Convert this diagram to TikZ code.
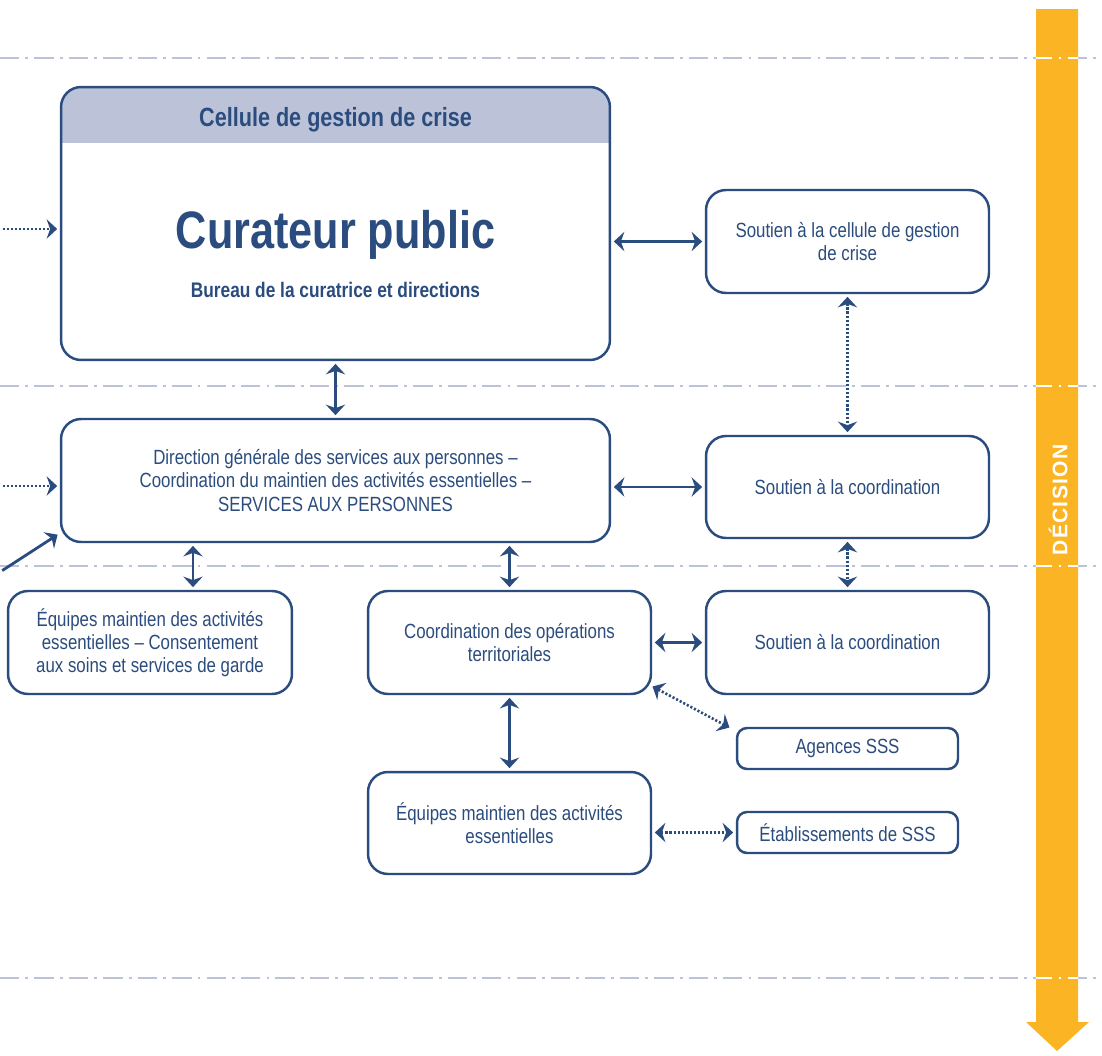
\documentclass[tikz,border=0pt]{standalone}
\usepackage{fontspec}
\setmainfont[FakeStretch=0.82]{Liberation Sans}
\newfontfamily\widefont[LetterSpace=6]{Liberation Sans}
\usetikzlibrary{arrows.meta}
\definecolor{navy}{HTML}{2B4C7E}
\definecolor{lilac}{HTML}{BCC3D8}
\definecolor{amber}{HTML}{FBB424}
\begin{document}
\begin{tikzpicture}[x=0.02cm, y=-0.02cm,
  box/.style={draw=navy, line width=1.4pt, fill=white, rounded corners=0.4cm, minimum width=5.66cm, minimum height=2.06cm, align=center, text=navy, font=\fontsize{11.7}{13.2}\selectfont, inner sep=2pt},
  smallbox/.style={box, rounded corners=0.2cm, minimum width=4.42cm, minimum height=0.82cm},
  link/.style={navy, line width=1.6pt, {Stealth[length=6pt,width=11pt,inset=2pt]}-{Stealth[length=6pt,width=11pt,inset=2pt]}, shorten >=1.5pt, shorten <=1.5pt},
  dotlink/.style={link, line width=1.5pt, dash pattern=on 1.2pt off 1.1pt},
  inlink/.style={link, {}-{Stealth[length=6pt,width=11pt,inset=2pt]}},
  sep/.style={lilac, line width=1.1pt, dash pattern=on 11pt off 3.5pt on 1.6pt off 3.5pt}
]
\useasboundingbox (0,0) rectangle (1102,1055);

% separations
\draw[sep] (0,58) -- (1102,58);
\draw[sep] (0,386) -- (1102,386);
\draw[sep] (0,566) -- (1102,566);
\draw[sep] (0,978) -- (1102,978);

% decision arrow
\fill[amber] (1036,9) -- (1078,9) -- (1078,1022) -- (1089,1022) -- (1057,1051) -- (1026,1022) -- (1036,1022) -- cycle;
\begin{scope}
\clip (1036,0) rectangle (1078,1055);
\draw[sep, white] (0,58) -- (1102,58);
\draw[sep, white] (0,386) -- (1102,386);
\draw[sep, white] (0,566) -- (1102,566);
\draw[sep, white] (0,978) -- (1102,978);
\end{scope}
\node[rotate=90, text=white, font=\widefont\bfseries\fontsize{12}{14}\selectfont] (decision) at (1058,500) {DÉCISION};

% boxes
\node[box, minimum width=10.98cm, minimum height=5.46cm, path picture={\fill[lilac, sharp corners] (path picture bounding box.north west) rectangle ([yshift=-1.12cm]path picture bounding box.north east);}] (cur) at (335.5,223.5) {};
\node[text=navy, font=\bfseries\fontsize{15}{17}\selectfont] (cellule) at (335.5,120) {Cellule de gestion de crise};
\node[text=navy, font=\bfseries\fontsize{30}{34}\selectfont] (curateur) at (335.5,235) {Curateur public};
\node[text=navy, font=\bfseries\fontsize{12}{14}\selectfont] (bureau) at (335.5,290) {Bureau de la curatrice et directions};

\node[box] (sc) at (847.5,241.5) {Soutien à la cellule de gestion\\de crise};
\node[box, minimum width=10.98cm, minimum height=2.46cm] (dg) at (335.5,480.5) {Direction générale des services aux personnes –\\Coordination du maintien des activités essentielles –\\SERVICES AUX PERSONNES};
\node[box, minimum height=2.04cm] (s1) at (847.5,487) {Soutien à la coordination};
\node[box, minimum width=5.68cm] (eq1) at (150,642.5) {Équipes maintien des activités\\essentielles – Consentement\\aux soins et services de garde};
\node[box] (ops) at (509.5,642.5) {Coordination des opérations\\territoriales};
\node[box] (s2) at (847.5,642.5) {Soutien à la coordination};
\node[smallbox] (ag) at (847.5,748.5) {Agences SSS};
\node[box, minimum height=2.04cm] (eq2) at (509.5,823) {Équipes maintien des activités\\essentielles};
\node[smallbox] (et) at (847.5,832.5) {Établissements de SSS};

% connectors
\coordinate (in1) at (0,229);
\coordinate (in2) at (0,486);
\coordinate (in3) at (0,572);
\draw[inlink, dash pattern=on 1.2pt off 1.1pt, line width=1.5pt] (in1) -- (cur.west |- in1);
\draw[inlink, dash pattern=on 1.2pt off 1.1pt, line width=1.5pt] (in2) -- (dg.west |- in2);
\draw[inlink] (in3) -- ([yshift=0.2cm]dg.south west);
\draw[link] (cur.east |- sc.west) -- (sc.west);
\draw[link] (cur.south) -- (dg.north);
\draw[dotlink] (sc.south) -- (s1.north);
\draw[link] (dg.east |- s1.west) -- (s1.west);
\draw[link] ([xshift=0.86cm]eq1.north) -- ([xshift=0.86cm]eq1.north |- dg.south);
\draw[link] (ops.north) -- (ops.north |- dg.south);
\draw[dotlink] (s1.south) -- (s2.north);
\draw[link] (ops.east) -- (s2.west);
\draw[dotlink] ([xshift=-0.04cm,yshift=0.2cm]ops.south east) -- ([xshift=-0.08cm,yshift=-0.04cm]ag.north west);
\draw[link] (ops.south) -- (eq2.north);
\draw[dotlink] (eq2.east |- et.west) -- (et.west);
\end{tikzpicture}
\end{document}
